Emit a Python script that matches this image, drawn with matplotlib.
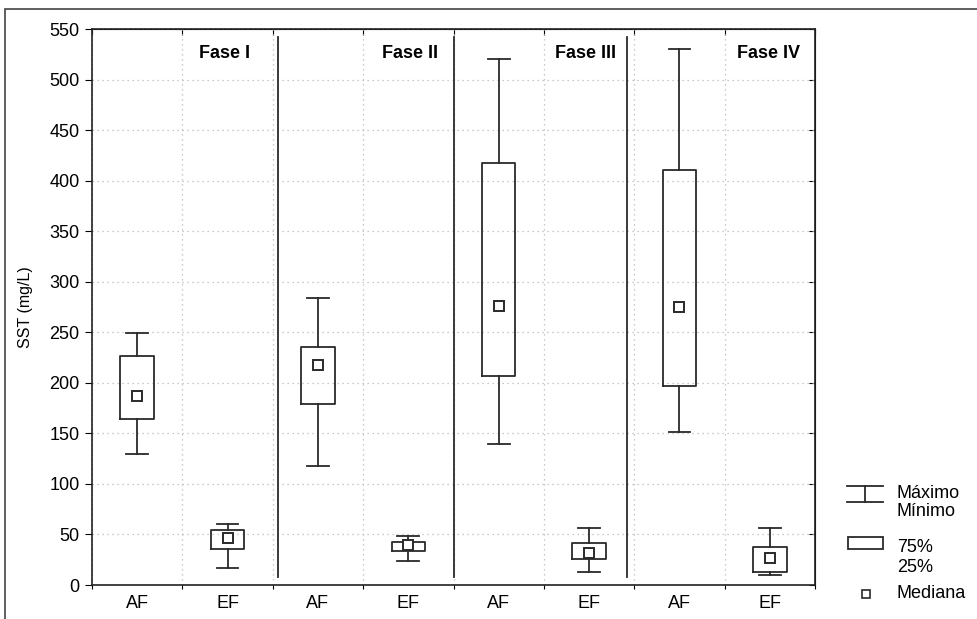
import matplotlib as mpl
mpl.use('Agg')
import matplotlib.pyplot as plt
from matplotlib.patches import Rectangle
from matplotlib.lines import Line2D

plt.rcParams['font.family'] = ['Liberation Sans', 'DejaVu Sans']

grupos = ['AF', 'EF', 'AF', 'EF', 'AF', 'EF', 'AF', 'EF']
maximo = [249, 60, 284, 48, 520, 56, 530, 56]
q75 = [227, 54, 235, 43, 417, 42, 411, 38]
mediana = [187, 46, 218, 40, 276, 32, 275, 27]
q25 = [164, 36, 179, 34, 207, 26, 197, 13]
minimo = [130, 17, 118, 24, 139, 13, 151, 10]

fases = ['Fase I', 'Fase II', 'Fase III', 'Fase IV']
fase_x = [1.75, 3.83, 5.80, 7.83]
separadores = [2.06, 4.0, 5.92]

cor = '#2a2a2a'
fs = 13

fig = plt.figure(figsize=(9.77, 6.19), dpi=100)
fig.patches.append(Rectangle((5 / 977, -0.1), 2, 1.1 - 9 / 619, transform=fig.transFigure,
                             fill=False, edgecolor='#444444', lw=1.2))

ax = fig.add_axes([92 / 977, 34 / 619, 723 / 977, 556 / 619])

pos = [i + 0.5 for i in range(len(grupos))]
stats = []
for i in range(len(grupos)):
    stats.append(dict(med=mediana[i], q1=q25[i], q3=q75[i], whislo=minimo[i], whishi=maximo[i]))

lp = dict(color=cor, lw=1.3)
ax.bxp(stats, positions=pos, widths=0.37, capwidths=0.24, showfliers=False,
       boxprops=lp, whiskerprops=lp, capprops=lp, medianprops=dict(visible=False),
       manage_ticks=False)
ax.plot(pos, mediana, 's', ms=7.5, mfc='white', mec=cor, mew=1.4, ls='none', zorder=5)

for xs in separadores:
    ax.plot([xs, xs], [8, 542], color=cor, lw=1.3, zorder=4)

for nome, xf in zip(fases, fase_x):
    ax.text(xf, 526, nome, ha='right', va='center', fontsize=fs, fontweight='bold')

ax.set_xlim(0, 8)
ax.set_ylim(0, 550)
ax.set_yticks(range(0, 551, 50))
ax.set_xticks(range(0, 9))
ax.set_xticklabels([])
ax.set_xticks(pos, minor=True)
ax.set_xticklabels(grupos, minor=True)
ax.tick_params(axis='x', which='minor', length=0, labelsize=fs, pad=7)
ax.tick_params(axis='x', which='major', direction='out', length=3)
ax.tick_params(axis='y', direction='out', length=5, labelsize=fs, pad=4)
ax.grid(True, which='major', ls=(0, (1, 3)), color='#b8b8b8', lw=0.9)
ax.set_axisbelow(True)
for s in ax.spines.values():
    s.set_color('#222222')
    s.set_linewidth(1.2)
ax.set_ylabel('SST (mg/L)', fontsize=11.5, labelpad=12)

sy = ax.secondary_yaxis('right')
sy.set_yticks(range(0, 551, 50))
sy.set_yticklabels([])
sy.tick_params(direction='in', length=4)
sx = ax.secondary_xaxis('top')
sx.set_xticks(range(0, 9))
sx.set_xticklabels([])
sx.tick_params(direction='in', length=4)

# legenda desenhada a mao
lg = fig.add_axes([0, 0, 1, 1], facecolor='none')
lg.set_xlim(0, 977)
lg.set_ylim(619, 0)
lg.axis('off')
lg.add_line(Line2D([847, 883], [486, 486], color=cor, lw=1.3))
lg.add_line(Line2D([847, 883], [502, 502], color=cor, lw=1.3))
lg.add_line(Line2D([865, 865], [486, 502], color=cor, lw=1.3))
lg.text(897, 493, 'Máximo', va='center', fontsize=fs)
lg.text(897, 512, 'Mínimo', va='center', fontsize=fs)
lg.add_patch(Rectangle((848, 537), 35, 12, fill=False, edgecolor=cor, lw=1.3))
lg.text(897, 547, '75%', va='center', fontsize=fs)
lg.text(897, 567, '25%', va='center', fontsize=fs)
lg.plot([866], [594], 's', ms=6, mfc='white', mec=cor, mew=1.2)
lg.text(897, 594, 'Mediana', va='center', fontsize=fs)

fig.savefig('out.png', dpi=100)
